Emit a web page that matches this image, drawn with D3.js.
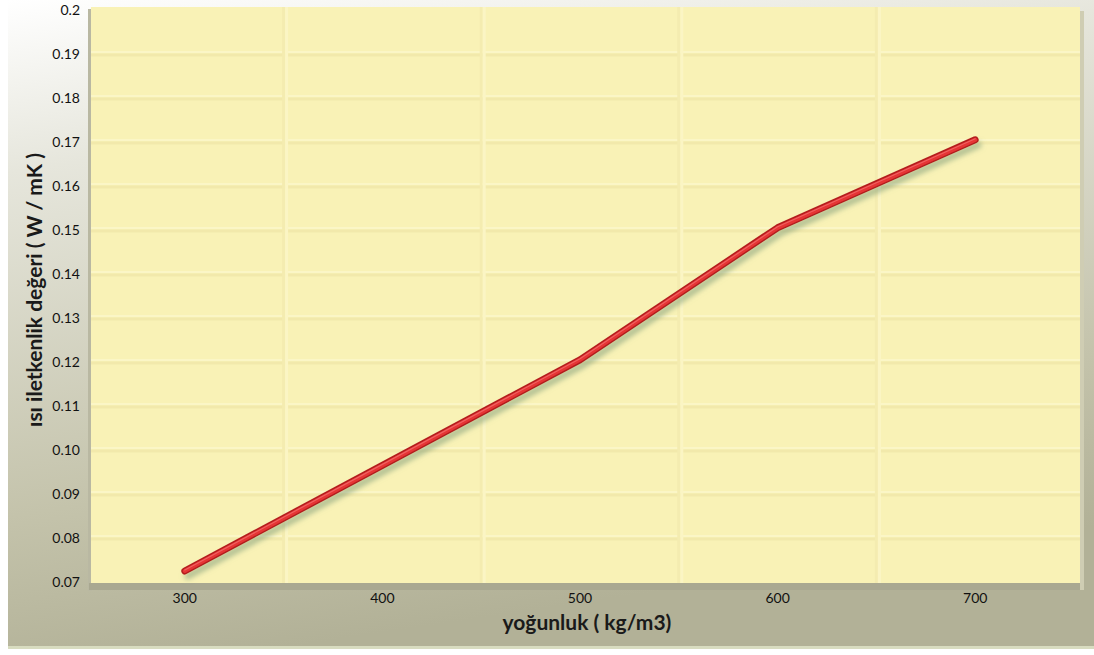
<!DOCTYPE html>
<html>
<head>
<meta charset="utf-8">
<script src="https://cdn.jsdelivr.net/npm/d3@7/dist/d3.min.js"></script>
<style>
  html, body { margin: 0; padding: 0; background: #ffffff; }
  svg { display: block; }
</style>
</head>
<body>
<svg id="chart" width="1094" height="655"></svg>
<script>
// ---- data ----
const categories = ["300", "400", "500", "600", "700"];
const values = [0.0725, 0.0965, 0.1205, 0.1505, 0.1705];
const yTicks = [0.07, 0.08, 0.09, 0.10, 0.11, 0.12, 0.13, 0.14, 0.15, 0.16, 0.17, 0.18, 0.19, 0.2];
const yTickLabels = ["0.07", "0.08", "0.09", "0.10", "0.11", "0.12", "0.13", "0.14", "0.15", "0.16", "0.17", "0.18", "0.19", "0.2"];
const xTitle = "yoğunluk ( kg/m3)";
const yTitle = "ısı iletkenlik değeri ( W / mK )";

// ---- layout ----
const W = 1094, H = 655;
const plot = { left: 91, right: 1080, top: 7, bottom: 583 };
const svg = d3.select("#chart");
const defs = svg.append("defs");

const x = d3.scaleBand().domain(categories).range([86, 1074]).paddingInner(0).paddingOuter(0);
const y = d3.scaleLinear().domain([0.07, 0.2]).range([582, 10]);

// background panel gradient
const bg = defs.append("linearGradient").attr("id", "bgGrad")
  .attr("x1", "0").attr("y1", "0").attr("x2", "0.25").attr("y2", "1");
bg.append("stop").attr("offset", "0").attr("stop-color", "#ffffff");
bg.append("stop").attr("offset", "0.25").attr("stop-color", "#e6e6dc");
bg.append("stop").attr("offset", "0.75").attr("stop-color", "#c4c3ab");
bg.append("stop").attr("offset", "1").attr("stop-color", "#b2b197");

svg.append("rect").attr("x", 8).attr("y", 0).attr("width", W - 8).attr("height", 648)
  .attr("fill", "url(#bgGrad)");
svg.append("rect").attr("x", 8).attr("y", 646).attr("width", W - 8).attr("height", 3)
  .attr("fill", "#d8dcc0");

// plot area (3D-ish walls)
svg.append("rect").attr("x", plot.left - 3).attr("y", plot.top + 2)
  .attr("width", 4).attr("height", plot.bottom - plot.top + 6).attr("fill", "#b9b8a2");
svg.append("rect").attr("x", plot.left - 2).attr("y", plot.bottom)
  .attr("width", plot.right - plot.left + 5).attr("height", 7).attr("fill", "#a9a891");
svg.append("rect").attr("x", plot.right).attr("y", plot.top + 4)
  .attr("width", 4).attr("height", plot.bottom - plot.top + 3).attr("fill", "#cfcdb3");
svg.append("rect").attr("x", plot.left).attr("y", plot.top)
  .attr("width", plot.right - plot.left).attr("height", plot.bottom - plot.top)
  .attr("fill", "#f9f2b6");

// horizontal gridlines
const gridG = svg.append("g");
gridG.selectAll("line.h").data(yTicks.slice(1, -1)).join("line")
  .attr("x1", plot.left).attr("x2", plot.right)
  .attr("y1", d => y(d) + 1).attr("y2", d => y(d) + 1)
  .attr("stroke", "#f2e9ab").attr("stroke-width", 3);
gridG.selectAll("line.hl").data(yTicks.slice(1, -1)).join("line")
  .attr("x1", plot.left).attr("x2", plot.right)
  .attr("y1", d => y(d) - 2).attr("y2", d => y(d) - 2)
  .attr("stroke", "#fbf6c6").attr("stroke-width", 2);
// vertical gridlines at category boundaries
gridG.selectAll("line.v").data(categories.slice(1)).join("line")
  .attr("x1", d => x(d)).attr("x2", d => x(d))
  .attr("y1", plot.top).attr("y2", plot.bottom)
  .attr("stroke", "#f4ecb0").attr("stroke-width", 3);
gridG.selectAll("line.vl").data(categories.slice(1)).join("line")
  .attr("x1", d => x(d) + 3).attr("x2", d => x(d) + 3)
  .attr("y1", plot.top).attr("y2", plot.bottom)
  .attr("stroke", "#fbf5c4").attr("stroke-width", 3);

// y axis labels
const yAxis = d3.axisLeft(y).tickValues(yTicks)
  .tickFormat((d, i) => yTickLabels[i]).tickSize(0).tickPadding(0);
const yg = svg.append("g").attr("transform", "translate(80,0)").call(yAxis);
yg.select(".domain").remove();
yg.selectAll("text").attr("font-family", "Lato, 'Open Sans', sans-serif")
  .attr("font-size", 14).attr("fill", "#111").attr("dy", "0.35em");

// x axis labels
const xAxis = d3.axisBottom(x).tickSize(0).tickPadding(0);
const xg = svg.append("g").attr("transform", "translate(0,593)").call(xAxis);
xg.select(".domain").remove();
xg.selectAll("text").attr("font-family", "Lato, 'Open Sans', sans-serif")
  .attr("font-size", 14).attr("fill", "#111");

// titles
svg.append("text").attr("x", 587).attr("y", 630).attr("text-anchor", "middle")
  .attr("font-family", "Lato, 'Open Sans', sans-serif").attr("font-weight", "bold")
  .attr("font-size", 21).attr("fill", "#1a1a1a").text(xTitle);
svg.append("text").attr("transform", "translate(42,290) rotate(-90)")
  .attr("text-anchor", "middle")
  .attr("font-family", "Lato, 'Open Sans', sans-serif").attr("font-weight", "bold")
  .attr("font-size", 21).attr("fill", "#1a1a1a").text(yTitle);

// line with shadow
const sh = defs.append("filter").attr("id", "shadow")
  .attr("x", "-10%").attr("y", "-10%").attr("width", "120%").attr("height", "130%");
sh.append("feGaussianBlur").attr("in", "SourceAlpha").attr("stdDeviation", 2.5).attr("result", "b");
sh.append("feOffset").attr("in", "b").attr("dx", 3).attr("dy", 5).attr("result", "o");
sh.append("feFlood").attr("flood-color", "#7c9a78").attr("flood-opacity", 0.55).attr("result", "c");
sh.append("feComposite").attr("in", "c").attr("in2", "o").attr("operator", "in").attr("result", "s");
const m = sh.append("feMerge");
m.append("feMergeNode").attr("in", "s");
m.append("feMergeNode").attr("in", "SourceGraphic");

const line = d3.line()
  .x((d, i) => x(categories[i]) + x.bandwidth() / 2)
  .y(d => y(d));

const lg = svg.append("g").attr("filter", "url(#shadow)");
lg.append("path").datum(values).attr("d", line)
  .attr("fill", "none").attr("stroke", "#b31f1f").attr("stroke-width", 7)
  .attr("stroke-linecap", "round").attr("stroke-linejoin", "round");
lg.append("path").datum(values).attr("d", line)
  .attr("fill", "none").attr("stroke", "#e53434").attr("stroke-width", 4)
  .attr("stroke-linecap", "round").attr("stroke-linejoin", "round");
lg.append("path").datum(values).attr("d", line)
  .attr("fill", "none").attr("stroke", "#f06060").attr("stroke-width", 1.2)
  .attr("transform", "translate(0,-1)")
  .attr("stroke-linecap", "round").attr("stroke-linejoin", "round");
</script>
</body>
</html>
